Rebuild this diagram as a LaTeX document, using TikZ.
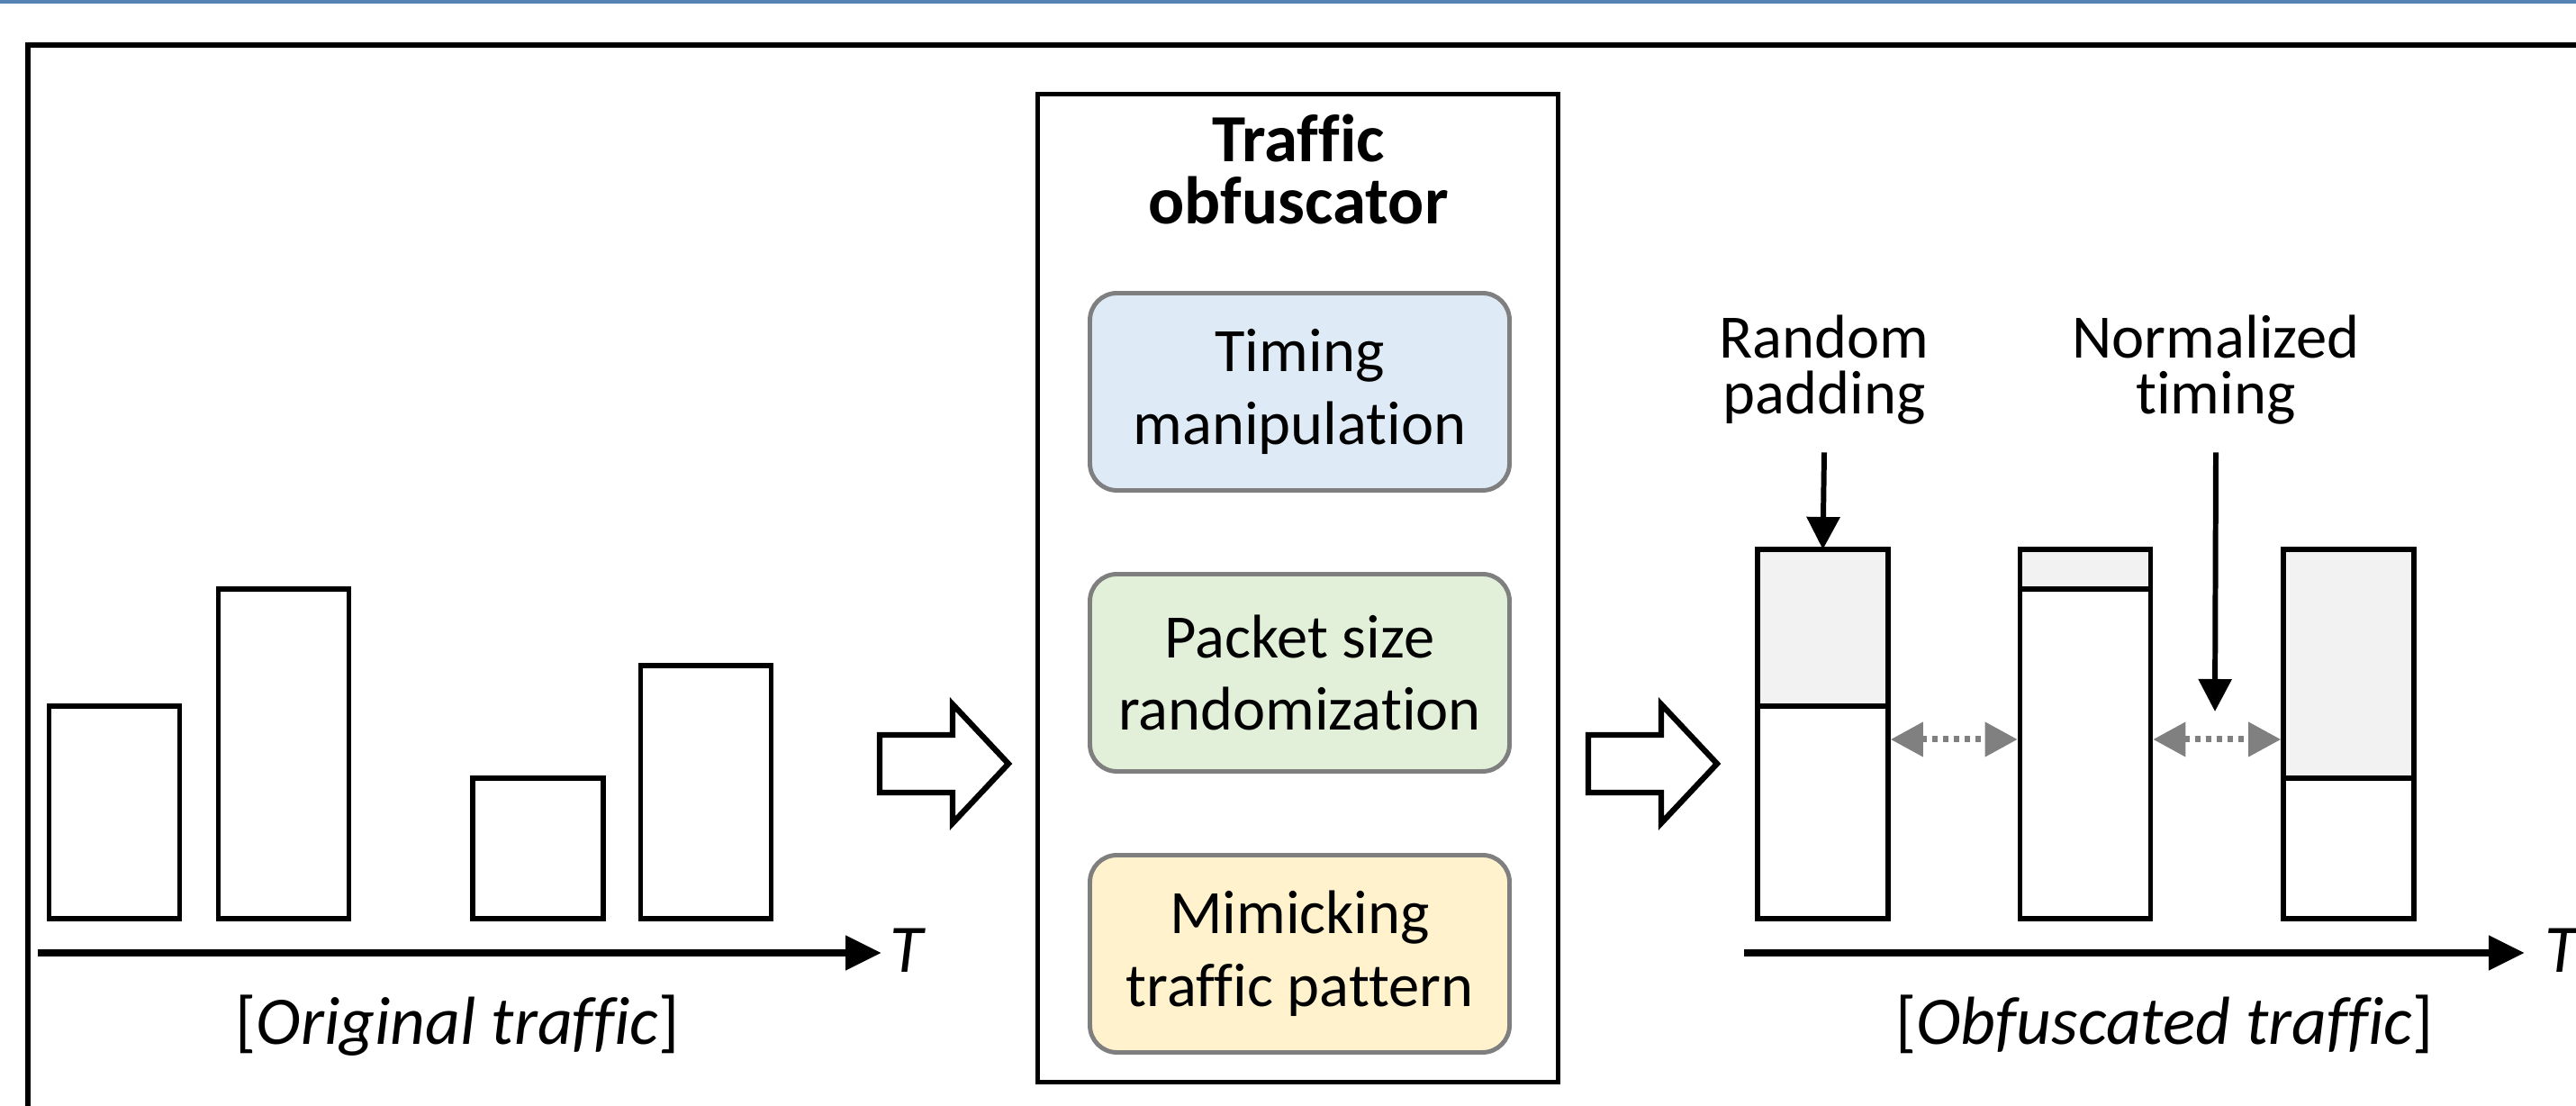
\documentclass[tikz,border=0pt]{standalone}
\usepackage{fontspec}
\setmainfont{Carlito}[Ligatures=NoCommon]
\usepackage{xcolor}
\usetikzlibrary{positioning, arrows.meta}

\definecolor{topblue}{RGB}{84,130,178}
\definecolor{padgray}{RGB}{242,242,242}
\definecolor{boxgray}{RGB}{127,127,127}
\definecolor{timeblue}{RGB}{222,235,247}
\definecolor{sizegreen}{RGB}{226,240,217}
\definecolor{mimicyellow}{RGB}{255,242,204}

\begin{document}
\begin{tikzpicture}[x=1cm, y=1cm, >=stealth, font=\fontsize{19.5}{23}\selectfont,
    pkt/.style={draw, line width=1.6pt, fill=white, minimum width=1.45cm, inner sep=0pt, outer sep=0pt, anchor=south},
    pad/.style={pkt, fill=padgray},
    module/.style={draw=boxgray, line width=1.4pt, rounded corners=3mm, minimum width=4.66cm, minimum height=2.19cm, align=center, inner sep=0pt},
    hollow/.style={draw, line width=1.8pt, fill=white, line join=miter},
    timeaxis/.style={line width=2.3pt, -{Triangle[length=4mm, width=3.7mm]}},
    callout/.style={line width=1.7pt, -{Triangle[length=3.6mm, width=3.6mm]}},
    gap/.style={black!50, line width=2pt, dash pattern=on 0.6mm off 0.6mm, shorten >=0.8pt, shorten <=0.8pt,
        {Triangle[length=3.6mm, width=3.7mm]}-{Triangle[length=3.6mm, width=3.7mm]}},
    lbl/.style={align=center, font=\fontsize{19.5}{17.6}\selectfont, inner sep=0pt},
    caption/.style={anchor=base, inner sep=0pt, font=\fontsize{21.5}{26}\selectfont}]

    % 1. Canvas, top strip and outer frame
    \useasboundingbox (0,0) rectangle (28.61,12.28);
    \clip (0,0) rectangle (28.61,12.28);
    \fill[white] (0,0) rectangle (28.61,12.28);
    \fill[topblue] (0,12.24) rectangle (28.61,12.28);
    \draw[line width=1.8pt] (0.31,-1) rectangle (30,11.78);

    % 2. Original traffic
    \foreach \x/\h [count=\i] in {1.27/2.36, 3.15/3.66, 5.975/1.56, 7.84/2.81}
        \node[pkt, minimum height=\h cm] (i\i) at (\x,2.08) {};
    \coordinate (ia) at (0.42,1.70);
    \coordinate (ib) at (9.79,1.70);
    \draw[timeaxis] (ia) -- (ib);
    \node[caption, anchor=base west] (it) at (9.88,1.48) {\itshape T};
    \node[caption] (icap) at (5.08,0.68) {[\textit{Original traffic}]};

    % 3. Obfuscator block
    \node[draw, line width=1.5pt, minimum width=5.78cm, minimum height=10.97cm, outer sep=0pt] (obf) at (14.415,5.75) {};
    \node[align=center, inner sep=0pt, font=\fontsize{21.3}{19.4}\selectfont\bfseries] (title) at (14.42,10.40) {Traffic\\obfuscator};
    \node[module, fill=timeblue] (timing) at (14.435,7.93) {Timing\\manipulation};
    \node[module, fill=sizegreen] (size) at (14.435,4.81) {Packet size\\randomization};
    \node[module, fill=mimicyellow] (mimic) at (14.435,1.69) {Mimicking\\traffic pattern};

    % 4. Hollow arrows
    \foreach \xs in {9.77, 17.64}
        \draw[hollow] (\xs,3.48) -- ++(0.81,0) -- ++(0,-0.34) -- ++(0.62,0.66) -- ++(-0.62,0.66) -- ++(0,-0.34) -- ++(-0.81,0) -- cycle;

    % 5. Obfuscated traffic
    \foreach \x/\h/\p [count=\i] in {20.245/2.36/1.74, 23.16/3.66/0.44, 26.085/1.56/2.54} {
        \node[pkt, minimum height=\h cm] (d\i) at (\x,2.08) {};
        \node[pad, minimum height=\p cm] (p\i) at (d\i.north) {};
    }
    \coordinate (oa) at (19.37,1.70);
    \coordinate (ob) at (28.04,1.70);
    \draw[timeaxis] (oa) -- (ob);
    \node[caption, anchor=base west] (ot) at (28.26,1.48) {\itshape T};
    \node[caption] (ocap) at (24.04,0.68) {[\textit{Obfuscated traffic}]};

    % 6. Annotations
    \node[lbl] (rp) at (20.26,8.17) {Random\\padding};
    \node[lbl] (nt) at (24.61,8.17) {Normalized\\timing};
    \draw[callout] ([yshift=-3mm]rp.south) -- (p1.north);
    \coordinate (gapmark) at (24.60,4.38);
    \draw[callout] ([yshift=-3mm]nt.south) -- (gapmark);
    \coordinate (gapy) at (0,4.07);
    \draw[gap] (d1.east |- gapy) -- (d2.west |- gapy);
    \draw[gap] (d2.east |- gapy) -- (p3.west |- gapy);

\end{tikzpicture}
\end{document}
